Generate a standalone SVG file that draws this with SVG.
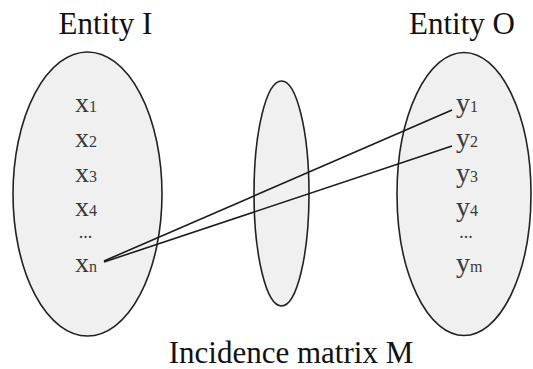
<svg xmlns="http://www.w3.org/2000/svg" width="533" height="369" viewBox="0 0 533 369">
<style>
.ell{fill:#f0f0f0;stroke:#222;stroke-width:1.6}
.title{font-family:"Liberation Serif",serif;font-size:31px;fill:#111;text-anchor:middle}
.lab{font-family:"Liberation Serif",serif;font-size:28px;fill:#3a3a3a}
.sub{font-size:16px}
.dots{font-family:"Liberation Serif",serif;font-size:18px;fill:#3a3a3a;text-anchor:middle}
.conn{stroke:#1a1a1a;stroke-width:1.6;fill:none}
</style>
<rect width="533" height="369" fill="#ffffff"/>
<g id="entity-I">
<ellipse class="ell" cx="87.5" cy="194" rx="74.5" ry="142"/>
<text class="title" x="105.5" y="34">Entity I</text>
<text class="lab" x="75" y="112">x<tspan class="sub">1</tspan></text>
<text class="lab" x="75" y="147">x<tspan class="sub">2</tspan></text>
<text class="lab" x="75" y="182">x<tspan class="sub">3</tspan></text>
<text class="lab" x="75" y="216">x<tspan class="sub">4</tspan></text>
<text class="dots" x="85.5" y="238">...</text>
<text class="lab" x="75" y="272">x<tspan class="sub">n</tspan></text>
</g>
<g id="matrix-M">
<ellipse class="ell" cx="281.5" cy="193.5" rx="27.5" ry="112.5"/>
<text class="title" x="291" y="363">Incidence matrix M</text>
</g>
<g id="entity-O">
<ellipse class="ell" cx="464" cy="194" rx="67" ry="141.5"/>
<text class="title" x="462" y="34">Entity O</text>
<text class="lab" x="456" y="112">y<tspan class="sub">1</tspan></text>
<text class="lab" x="456" y="147">y<tspan class="sub">2</tspan></text>
<text class="lab" x="456" y="182">y<tspan class="sub">3</tspan></text>
<text class="lab" x="456" y="216">y<tspan class="sub">4</tspan></text>
<text class="dots" x="466" y="238">...</text>
<text class="lab" x="456" y="272">y<tspan class="sub">m</tspan></text>
</g>
<g id="connectors">
<line class="conn" x1="104" y1="261" x2="452" y2="110"/>
<line class="conn" x1="104" y1="262" x2="452" y2="146"/>
</g>
</svg>
